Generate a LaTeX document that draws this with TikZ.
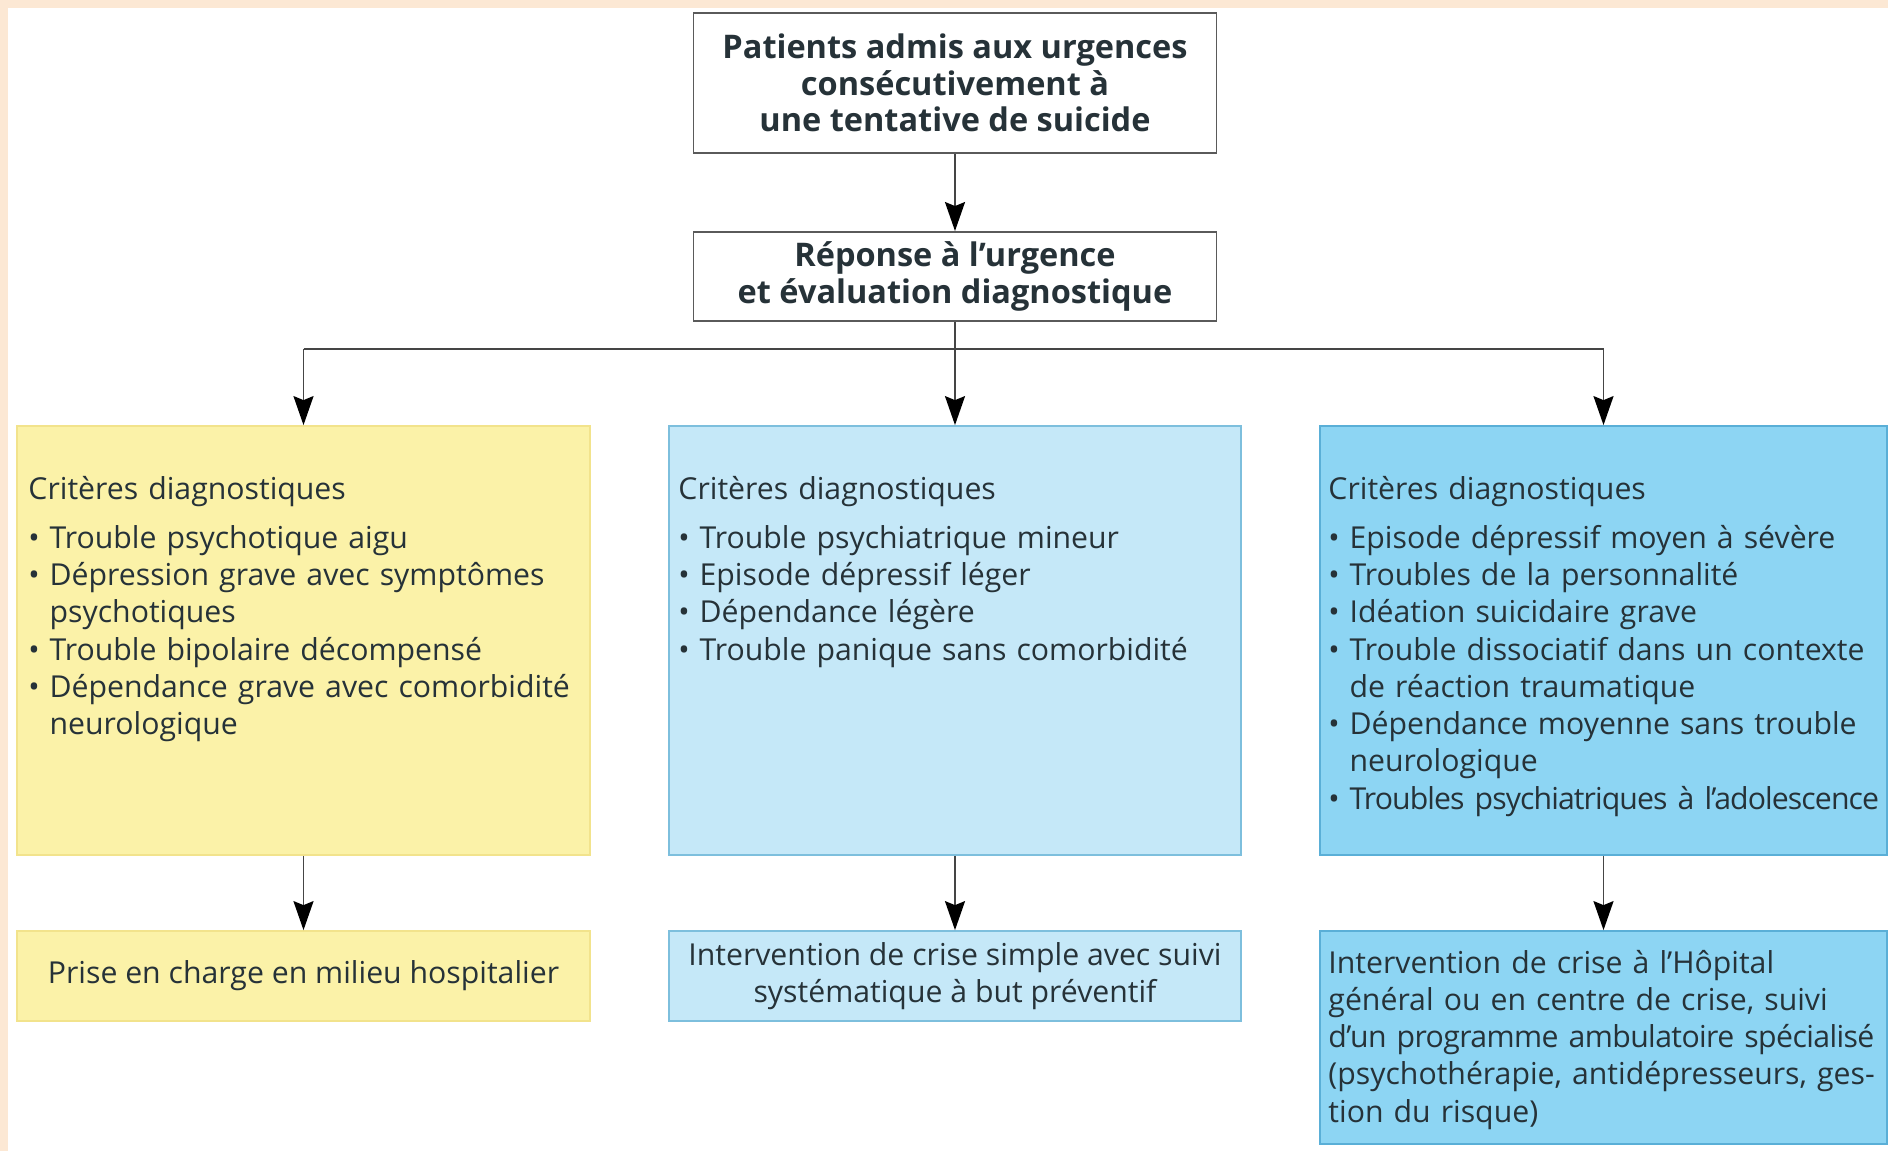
\documentclass[tikz,border=0pt]{standalone}
\usepackage{fontspec}
\setmainfont{Open Sans}
\usetikzlibrary{arrows.meta,positioning}

\definecolor{peche}{HTML}{FCE8D4}
\definecolor{bordgris}{HTML}{5A5A5A}
\definecolor{trait}{HTML}{454545}
\definecolor{encre}{HTML}{263238}
\definecolor{jaune}{HTML}{FBF2A8}
\definecolor{jaunebord}{HTML}{F2E38C}
\definecolor{bleuclair}{HTML}{C5E8F8}
\definecolor{bleuclairbord}{HTML}{7DBFDD}
\definecolor{bleu}{HTML}{8DD5F3}
\definecolor{bleubord}{HTML}{5AAFD7}

% puce avec retrait suspendu
\newcommand{\puce}[1]{\par\hangindent=0.7em\hangafter=1\noindent\makebox[0.7em][l]{\textbullet}#1\par}
\newcommand{\serre}[2]{{\addfontfeature{LetterSpace=#1}#2}}

\tikzset{
  titre/.style={draw=bordgris, line width=1.1pt, fill=white, align=center,
    font=\bfseries\fontsize{18.5}{20.7}\selectfont, text=encre,
    minimum width=104.6mm, inner sep=0pt},
  cadre/.style={line width=1pt, minimum width=114.4mm, minimum height=85.8mm, inner sep=0pt},
  issue/.style={line width=1pt, minimum width=114.4mm, minimum height=18mm, inner sep=0pt,
    align=center, text=encre, font=\fontsize{17.2}{21.2}\selectfont},
  liste/.style={inner sep=0pt, align=left, text width=122mm, text=encre,
    font=\fontsize{17.2}{21.2}\selectfont},
  fleche/.style={draw=trait, line width=1.1pt,
    -{Stealth[length=5.8mm, width=4mm, inset=0.8mm, color=black]}},
  lien/.style={draw=trait, line width=1.1pt}
}

\begin{document}
\begin{tikzpicture}[x=0.2mm, y=-0.2mm]

% fond
\useasboundingbox (0,0) rectangle (1888,1151);
\fill[peche] (0,0) rectangle (1888,1151);
\fill[white] (8,8) rectangle (1888,1151);

% urgence et evaluation
\node[titre, minimum height=28mm] (admis) at (955,83)
  {Patients admis aux urgences\\consécutivement à\\une tentative de suicide};
\node[titre, minimum height=17.8mm] (reponse) at (955,276.5)
  {Réponse à l’urgence\\et évaluation diagnostique};
\coordinate (split) at (955,349);

% criteres diagnostiques
\node[cadre, fill=jaune, draw=jaunebord, minimum width=114.6mm] (crit1) at (303.5,640.5) {};
\node[cadre, fill=bleuclair, draw=bleuclairbord] (crit2) at (955,640.5) {};
\node[cadre, fill=bleu, draw=bleubord, minimum width=113.4mm] (crit3) at (1603.5,640.5) {};

\node[liste, below right=10.2mm and 2.4mm of crit1.north west] (txt1) {%
  Critères diagnostiques\par\vspace{6.5pt}
  \puce{Trouble psychotique aigu}
  \puce{Dépression grave avec symptômes\newline psychotiques}
  \puce{Trouble bipolaire décompensé}
  \puce{Dépendance grave avec comorbidité\newline neurologique}};
\node[liste, below right=10.2mm and 2.0mm of crit2.north west] (txt2) {%
  Critères diagnostiques\par\vspace{6.5pt}
  \puce{Trouble psychiatrique mineur}
  \puce{Episode dépressif léger}
  \puce{Dépendance légère}
  \puce{Trouble panique sans comorbidité}};
\node[liste, below right=10.2mm and 1.8mm of crit3.north west] (txt3) {%
  Critères diagnostiques\par\vspace{6.5pt}
  \puce{Episode dépressif moyen à sévère}
  \puce{Troubles de la personnalité}
  \puce{Idéation suicidaire grave}
  \puce{Trouble dissociatif dans un contexte\newline de réaction traumatique}
  \puce{Dépendance moyenne sans trouble\newline neurologique}
  \puce{\serre{-3}{Troubles psychiatriques à l’adolescence}}};

% prises en charge
\node[issue, fill=jaune, draw=jaunebord, minimum width=114.6mm] (hospit) at (303.5,976)
  {Prise en charge en milieu hospitalier};
\node[issue, fill=bleuclair, draw=bleuclairbord] (crise) at (955,976)
  {Intervention de crise simple avec suivi\\systématique à but préventif};
\node[issue, fill=bleu, draw=bleubord, minimum width=113.4mm, minimum height=42.6mm] (centre) at (1603.5,1037.5) {};
\node[liste, below right=3.9mm and 1.8mm of centre.north west] (txtcentre) {%
  Intervention de crise à l’Hôpital\newline
  général ou en centre de crise, suivi\newline
  \serre{-2}{d’un programme ambulatoire spécialisé}\newline
  (psychothérapie, antidépresseurs, ges-\newline
  tion du risque)};

% fleches
\draw[fleche] (admis) -- (reponse);
\draw[lien] (reponse.south) -- (split);
\draw[lien] (crit1.north |- split) -- (crit3.north |- split);
\draw[fleche] (split) -- (crit2.north);
\draw[fleche] (crit1.north |- split) -- (crit1.north);
\draw[fleche] (crit3.north |- split) -- (crit3.north);
\draw[fleche] (crit1) -- (hospit);
\draw[fleche] (crit2) -- (crise);
\draw[fleche] (crit3.south) -- (centre.north);

\end{tikzpicture}
\end{document}
